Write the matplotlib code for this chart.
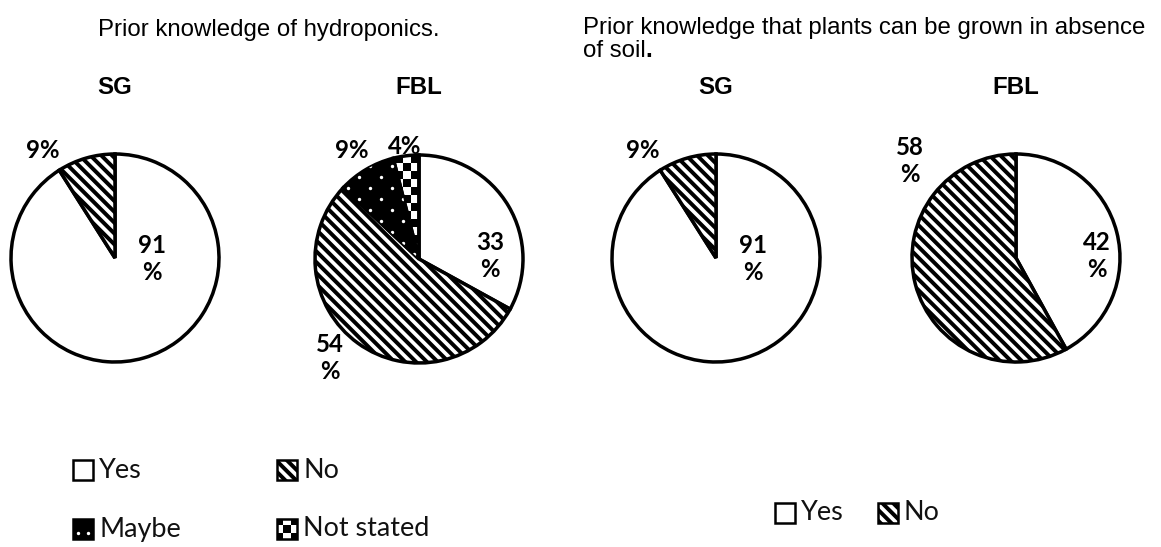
import numpy as np
import matplotlib.pyplot as plt
from matplotlib.patches import Rectangle

W, H, DPI = 1161, 547, 130
PT = 72 / DPI  # pixels -> points

plt.rcParams['hatch.linewidth'] = 2.2

# survey answers (percent)
hydro_cats = ['Yes', 'No', 'Maybe', 'Not stated']
hydro_sg = [91, 9]
hydro_fbl = [33, 54, 9, 4]
soil_cats = ['Yes', 'No']
soil_sg = [91, 9]
soil_fbl = [42, 58]

R = 104
EDGE = 3.5 * PT


def dots(ax, patch, x0, y0, x1, y1, step):
    # white staggered dots, clipped to the patch
    xs, ys = [], []
    for k, y in enumerate(np.arange(y0, y1 + 0.01, step / 2)):
        off = step / 2 if k % 2 else 0
        for x in np.arange(x0 + off, x1 + 0.01, step):
            xs.append(x)
            ys.append(y)
    sc = ax.scatter(xs, ys, s=3.5, c='white', linewidths=0, zorder=2.5)
    sc.set_clip_path(patch)


def checker(ax, patch, x0, y0, x1, y1, cell=8):
    nx = int((x1 - x0) / cell) + 1
    ny = int((y1 - y0) / cell) + 1
    board = np.indices((ny, nx)).sum(axis=0) % 2
    im = ax.imshow(board, cmap='gray', interpolation='nearest', aspect='auto',
                   extent=(x0, x0 + nx * cell, y0 + ny * cell, y0), zorder=0.5)
    im.set_clip_path(patch)


def style(ax, patch, cat, dot_box, box, step=22):
    if cat == 'Yes':
        patch.set_facecolor('white')
    elif cat == 'No':
        patch.set_facecolor('white')
        patch.set_hatch('\\\\\\\\')
    elif cat == 'Maybe':
        patch.set_facecolor('black')
        dots(ax, patch, *dot_box, step)
    else:
        patch.set_facecolor('none')
        patch.set_zorder(1.6)
        checker(ax, patch, *box)


def draw_pie(ax, values, cats, center, label_pos):
    wedges, _ = ax.pie(values, center=center, radius=R, startangle=-90,
                       counterclock=True,
                       wedgeprops=dict(edgecolor='black', linewidth=EDGE))
    cx, cy = center
    box = (cx - R, cy - R, cx + R, cy + R)
    for w, cat in zip(wedges, cats):
        style(ax, w, cat, box, box)
    for v, (x, y) in zip(values, label_pos):
        txt = f'{v}%' if v < 10 else f'{v}\n%'
        ax.text(x, y, txt, ha='center', va='center', family='Lato',
                fontweight='bold', fontsize=24 * PT, linespacing=1.2)


def legend_item(ax, x, y, cat):
    s = 20
    box = Rectangle((x, y - s / 2), s, s, edgecolor='black',
                    linewidth=2.5 * PT, zorder=2)
    ax.add_patch(box)
    style(ax, box, cat, (x + 5, y + 4, x + 15, y + 4),
          (x - 2, y - s / 2 - 2, x + s, y + s / 2), step=10)
    ax.text(x + s + 6, y, cat, ha='left', va='center', family='Lato',
            fontsize=27 * PT, color='#111111')


fig = plt.figure(figsize=(W / DPI, H / DPI), dpi=DPI)
ax = fig.add_axes([0, 0, 1, 1])

draw_pie(ax, hydro_sg, hydro_cats, (115, 258), [(152, 259), (43, 150)])
draw_pie(ax, hydro_fbl, hydro_cats, (419, 259),
         [(490, 256), (330, 358), (352, 151), (405, 147)])
draw_pie(ax, soil_sg, soil_cats, (716, 258), [(753, 259), (643, 150)])
draw_pie(ax, soil_fbl, soil_cats, (1016, 258), [(1097, 256), (910, 161)])

title_kw = dict(family='Liberation Sans', fontsize=24 * PT, va='baseline')
ax.text(98, 36, 'Prior knowledge of hydroponics.', ha='left', **title_kw)
ax.text(583, 34, 'Prior knowledge that plants can be grown in absence',
        ha='left', **title_kw)
t = ax.text(583, 57, 'of soil', ha='left', **title_kw)
ax.annotate('.', xy=(1, 0), xycoords=t, ha='left', va='bottom',
            family='Liberation Sans', fontsize=24 * PT, fontweight='bold')

for x, name in zip([115, 419, 716, 1016], ['SG', 'FBL', 'SG', 'FBL']):
    ax.text(x, 88, name, ha='center', va='center', family='Liberation Sans',
            fontsize=24 * PT, fontweight='bold')

legend_item(ax, 73, 470, 'Yes')
legend_item(ax, 277, 470, 'No')
legend_item(ax, 73, 529, 'Maybe')
legend_item(ax, 277, 529, 'Not stated')
legend_item(ax, 775, 513, 'Yes')
legend_item(ax, 878, 513, 'No')

ax.set_xlim(0, W)
ax.set_ylim(H, 0)
ax.set_aspect('equal')
ax.axis('off')

fig.savefig('out.png', dpi=DPI, facecolor='white')
